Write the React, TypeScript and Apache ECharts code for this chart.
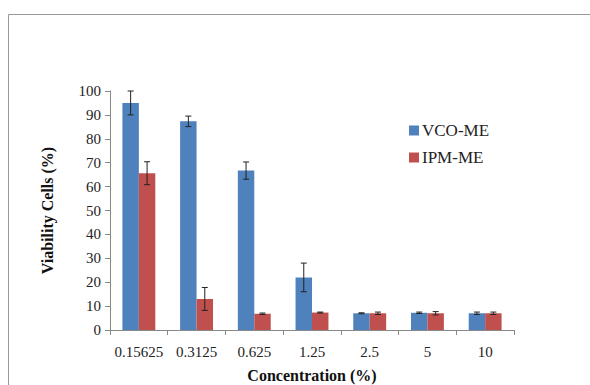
import React, { useEffect, useRef } from "react";
import * as echarts from "echarts";

const categories = ["0.15625", "0.3125", "0.625", "1.25", "2.5", "5", "10"];
const vcoValues = [95, 87.3, 66.7, 22, 7, 7.2, 7];
const vcoErrors = [5, 2.2, 3.6, 6, 0.2, 0.3, 0.5];
const ipmValues = [65.6, 13, 6.8, 7.3, 7, 7, 7];
const ipmErrors = [4.8, 4.8, 0.3, 0.2, 0.5, 0.7, 0.5];
const seriesNames = ["VCO-ME", "IPM-ME"];
const colors = ["#4F81BD", "#C0504D"];

const CAT_GAP = 0.43;
const FONT = "'Liberation Serif', 'Times New Roman', serif";

function errorSeries(values: number[], errors: number[], side: number) {
  return {
    type: "custom",
    silent: true,
    z: 10,
    data: values.map((v, i) => [i, v - errors[i], v + errors[i]]),
    renderItem: (params: any, api: any) => {
      const idx = api.value(0);
      const lo = api.coord([idx, api.value(1)]);
      const hi = api.coord([idx, api.value(2)]);
      const band = api.size([1, 0])[0];
      const barW = (band * (1 - CAT_GAP)) / 2;
      const x = lo[0] + (side * barW) / 2;
      const cap = 3;
      const style = { stroke: "#222", lineWidth: 1 };
      return {
        type: "group",
        children: [
          { type: "line", shape: { x1: x, y1: lo[1], x2: x, y2: hi[1] }, style },
          { type: "line", shape: { x1: x - cap, y1: lo[1], x2: x + cap, y2: lo[1] }, style },
          { type: "line", shape: { x1: x - cap, y1: hi[1], x2: x + cap, y2: hi[1] }, style },
        ],
      };
    },
  };
}

export default function App() {
  const ref = useRef<HTMLDivElement>(null);
  useEffect(() => {
    const chart = echarts.init(ref.current!, null, { renderer: "svg" });
    chart.setOption({
      animation: false,
      backgroundColor: "#fff",
      textStyle: { fontFamily: FONT },
      graphic: [
        {
          type: "rect",
          shape: { x: 8.5, y: 14.5, width: 700, height: 500 },
          style: { fill: "none", stroke: "#999", lineWidth: 1 },
          silent: true,
        },
      ],
      grid: { left: 110, right: 76, top: 91, bottom: 55, outerBoundsMode: "none", containLabel: false },
      legend: {
        orient: "vertical",
        left: 404,
        top: 117,
        itemWidth: 10,
        itemHeight: 10,
        itemGap: 10,
        icon: "rect",
        data: seriesNames,
        textStyle: { fontFamily: FONT, fontSize: 17, color: "#222", padding: [0, 0, 0, -2] },
      },
      xAxis: {
        type: "category",
        data: categories,
        name: "Concentration (%)",
        nameLocation: "middle",
        nameGap: 37,
        nameTextStyle: { fontFamily: FONT, fontSize: 16, fontWeight: "bold", color: "#111" },
        axisLine: { lineStyle: { color: "#888" } },
        axisTick: { show: true, length: 5, lineStyle: { color: "#888" } },
        axisLabel: { interval: 0, fontFamily: FONT, fontSize: 15, color: "#222", margin: 14 },
      },
      yAxis: {
        type: "value",
        min: 0,
        max: 100,
        interval: 10,
        name: "Viability Cells (%)",
        nameLocation: "middle",
        nameGap: 55,
        nameTextStyle: { fontFamily: FONT, fontSize: 16, fontWeight: "bold", color: "#111" },
        axisLine: { show: true, lineStyle: { color: "#888" } },
        axisTick: { show: true, length: 5, lineStyle: { color: "#888" } },
        axisLabel: { fontFamily: FONT, fontSize: 15, color: "#222", margin: 9 },
        splitLine: { show: false },
      },
      series: [
        {
          name: seriesNames[0],
          type: "bar",
          data: vcoValues,
          itemStyle: { color: colors[0] },
          barGap: "0%",
          barCategoryGap: CAT_GAP * 100 + "%",
        },
        {
          name: seriesNames[1],
          type: "bar",
          data: ipmValues,
          itemStyle: { color: colors[1] },
          barGap: "0%",
          barCategoryGap: CAT_GAP * 100 + "%",
        },
        errorSeries(vcoValues, vcoErrors, -1),
        errorSeries(ipmValues, ipmErrors, 1),
      ],
    });
    return () => chart.dispose();
  }, []);
  return (
    <div
      ref={ref}
      style={{ position: "absolute", left: 0, top: 0, width: 590, height: 385 }}
    />
  );
}
